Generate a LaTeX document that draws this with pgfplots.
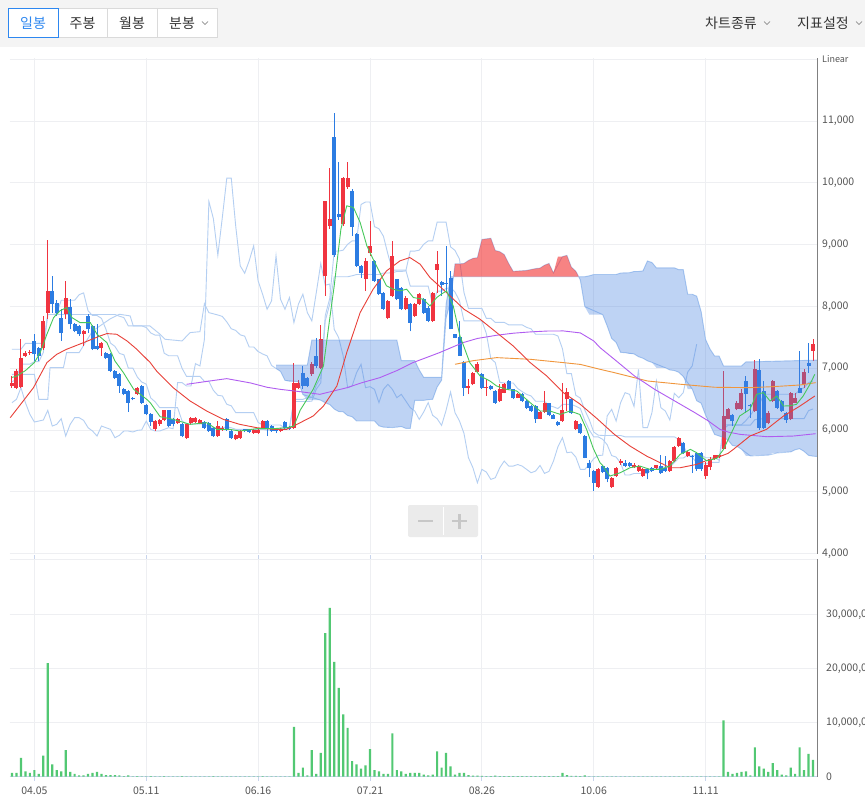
\documentclass[border=0pt]{standalone}
\usepackage{fontspec}
\setmainfont{Noto Sans CJK KR}
\usepackage{pgfplots}
\usepackage{pgfplotstable}
\pgfplotsset{compat=1.18}
\definecolor{upc}{RGB}{240,52,64}
\definecolor{dnc}{RGB}{44,124,226}
\definecolor{ma5}{RGB}{70,200,90}
\definecolor{ma20}{RGB}{232,64,56}
\definecolor{ma60}{RGB}{176,92,240}
\definecolor{ma120}{RGB}{240,150,60}
\definecolor{ichi}{RGB}{180,207,242}
\definecolor{cloudb}{RGB}{69,129,224}
\definecolor{cloudr}{RGB}{242,30,30}
\definecolor{gridc}{RGB}{238,239,242}
\definecolor{volg}{RGB}{82,200,115}
\definecolor{txt}{RGB}{85,85,85}
\definecolor{topbg}{RGB}{244,244,244}
\definecolor{btnb}{RGB}{218,218,218}
\definecolor{selb}{RGB}{45,135,240}
\definecolor{axb}{RGB}{200,212,236}

\pgfplotstableread{
i O H L C
0 6711 6873 6684 6765
1 6684 6980 6660 6954
2 6700 7467 6684 7170
3 7197 7280 7180 7251
4 7250 7300 7220 7265
7 7332 7845 7300 7764
8 7899 9076 7790 8250
12 7872 8412 7790 8142
16 7548 7620 7360 7600
20 7321 7420 7197 7402
28 6576 6700 6560 6684
32 6009 6160 5990 6144
33 6090 6180 6070 6160
34 6160 6330 6140 6317
37 6117 6200 6100 6182
39 5874 6100 5860 6090
40 6117 6210 6100 6198
41 6128 6210 6110 6198
42 6101 6170 6090 6155
46 5901 6140 5890 6063
47 6009 6060 5990 6036
50 5847 5930 5830 5912
51 5874 6000 5860 5982
54 5955 6010 5940 5993
55 5955 6010 5940 6000
56 6036 6160 6020 6144
60 5982 6030 5960 6009
63 6036 7089 6020 6765
64 6684 6800 6660 6765
67 6900 7100 6880 7073
69 7008 7694 6990 7467
70 8493 9700 8169 9697
71 9300 10237 9249 9420
74 9330 10100 9300 10075
75 9924 10329 9900 10075
79 8439 8790 8250 8736
80 8860 9384 8817 8979
84 7818 8100 7790 8088
85 8169 9060 8150 8817
88 7953 8160 7940 8142
90 7845 8050 7830 8034
91 8034 8210 8020 8196
94 7764 8240 7748 8223
95 8590 8898 8223 8693
102 6680 6819 6576 6711
103 6738 6940 6720 6927
104 6938 7100 6920 7062
106 6680 6819 6549 6700
109 6468 6738 6450 6657
110 6603 6760 6590 6738
113 6522 6590 6510 6576
118 6182 6300 6170 6290
119 6290 6630 6280 6441
123 6144 6765 6130 6317
124 6495 6684 6306 6614
126 6020 6160 6000 6144
131 5080 5380 5060 5361
134 5080 5240 5060 5226
135 5253 5400 5240 5388
136 5469 5530 5440 5496
139 5400 5460 5380 5440
140 5334 5430 5320 5415
141 5253 5380 5240 5361
144 5388 5440 5370 5425
147 5334 5510 5320 5496
148 5496 5740 5480 5728
149 5739 5890 5720 5874
151 5577 5660 5560 5642
155 5250 5480 5210 5440
156 5400 5560 5350 5534
157 5534 5600 5520 5588
158 5560 5600 5550 5590
159 5685 6954 5674 6225
160 6171 6350 6171 6333
162 6333 6460 6320 6441
163 6333 6657 6320 6603
166 6306 7132 6290 6981
169 6106 6300 6090 6279
170 6468 6810 6450 6792
174 6171 6610 6160 6592
175 6441 6603 6430 6522
177 6738 6981 6684 6938
179 7278 7467 7116 7386
}\upT

\pgfplotstableread{
i O H L C
5 7440 7550 7120 7224
6 7332 7350 7120 7197
9 8250 8493 7899 8034
10 8061 8100 7845 7899
11 7818 7953 7440 7575
13 7996 8115 7629 7710
14 7710 7730 7580 7600
15 7683 7700 7520 7548
17 7845 7872 7575 7629
18 7683 7700 7290 7305
19 7360 7710 7290 7305
21 7240 7260 7140 7159
22 7224 7240 6940 6954
23 6954 6970 6830 6846
24 6900 6920 6603 6711
25 6657 6680 6560 6576
26 6630 6650 6290 6441
27 6522 6540 6480 6495
29 6711 6730 6420 6441
30 6398 6414 6240 6252
31 6252 6270 6063 6128
35 6317 6330 6040 6063
36 6171 6190 6070 6090
38 6101 6120 5880 5901
43 6128 6140 6020 6036
44 6117 6130 5970 5982
45 6036 6050 5890 5901
48 6171 6190 5990 6009
49 5982 5995 5860 5874
52 6009 6020 5960 5982
53 6009 6020 5950 5966
57 6144 6160 5901 6009
58 6063 6080 5970 5982
59 6009 6020 5950 5982
61 6128 6144 6020 6036
62 6047 6060 6000 6020
65 6927 7035 6660 6711
66 6846 6860 6690 6711
68 7197 7490 7000 7035
72 10734 11128 8800 8828
73 9492 10329 9400 9438
76 9859 9900 9141 9292
77 9168 9190 8640 8655
78 8655 8670 8466 8536
81 8736 8750 8390 8412
82 8439 8450 8180 8196
83 8223 8240 7940 7953
86 8439 8450 8100 8115
87 8304 8320 7940 7953
89 8034 8050 7596 7737
92 8115 8130 7880 7899
93 7980 8000 7740 7764
96 8396 8410 8169 8342
97 8380 8979 8223 8360
98 8466 8570 7629 7629
99 7548 7560 7480 7494
100 7510 7760 7197 7197
101 7105 7120 6549 6684
105 6900 6920 6670 6684
107 6711 6730 6640 6657
108 6630 6650 6420 6441
111 6792 6810 6640 6657
112 6657 6670 6500 6522
114 6576 6590 6450 6468
115 6468 6480 6340 6360
116 6387 6400 6290 6306
117 6387 6400 6117 6171
120 6430 6440 6220 6236
121 6236 6250 6170 6182
122 6128 6140 6060 6074
125 6495 6510 6260 6279
127 6090 6110 5930 5944
128 5901 5920 5540 5550
129 5469 5520 5230 5388
130 5334 5350 5010 5145
132 5415 5430 5300 5318
133 5388 5400 5150 5199
137 5469 5520 5400 5415
138 5469 5480 5400 5415
142 5361 5370 5200 5307
143 5388 5400 5320 5334
145 5415 5600 5290 5296
146 5380 5580 5320 5330
150 5793 5810 5610 5631
152 5580 5600 5300 5560
153 5631 5650 5340 5361
154 5620 5640 5340 5361
161 6236 6250 6063 6144
164 6792 6873 6280 6576
165 6400 6420 6200 6380
167 6970 7154 6000 6036
168 6630 6792 6009 6036
171 6630 6650 6340 6360
172 6468 6480 6290 6306
173 6279 6290 6117 6160
176 6684 7278 6590 6603
178 7089 7413 6927 7035
}\dnT

\pgfplotsset{
  base/.style={
    scale only axis, xmin=-0.5, xmax=180,
    scaled x ticks=false, scaled y ticks=false,
    axis line style={draw=none},
    tick label style={font=\fontsize{10.5}{12.5}\selectfont, text=txt},
    grid style={gridc, line width=0.8pt},
    xtick={5,30,55,80,105,130,155},
    xmajorgrids, ymajorgrids,
    yticklabel pos=right,
    yticklabel style={anchor=west, inner sep=0pt, xshift=4.5pt},
    ytick style={draw=none},
  },
  wick/.style={draw=none, mark=none, forget plot,
    error bars/.cd, y dir=plus, y explicit, error mark=none,
    error bar style={draw=#1, line width=1pt}},
  body/.style={draw=none, mark=none, forget plot,
    error bars/.cd, y dir=plus, y explicit, error mark=none,
    error bar style={draw=#1, line width=4pt}},
}

\begin{document}
\begin{tikzpicture}[x=1pt,y=1pt]
\useasboundingbox (0,0) rectangle (865,807);
\clip (0,0) rectangle (865,807);
\fill[white] (0,0) rectangle (865,807);
% top bar
\fill[topbg] (0,760.3) rectangle (865,807);
\draw[btnb, fill=white, line width=0.8pt] (58,769.3) rectangle (107,798.7);
\draw[btnb, fill=white, line width=0.8pt] (107,769.3) rectangle (157,798.7);
\draw[btnb, fill=white, line width=0.8pt] (157,769.3) rectangle (217,798.7);
\draw[selb, fill=white, line width=0.9pt] (8.5,769.3) rectangle (58,798.7);
\node[font=\fontsize{14}{16}\selectfont, text=selb] at (33,784) {일봉};
\node[font=\fontsize{14}{16}\selectfont, text=black!80] at (82.5,784) {주봉};
\node[font=\fontsize{14}{16}\selectfont, text=black!80] at (132,784) {월봉};
\node[font=\fontsize{14}{16}\selectfont, text=black!80] at (182,784) {분봉};
\draw[black!55, line width=0.6pt] (202,785.5) -- (205,782.5) -- (208,785.5);
\node[font=\fontsize{14}{16}\selectfont, text=black!80] at (731,784) {차트종류};
\draw[black!55, line width=0.6pt] (764,785.5) -- (767,782.5) -- (770,785.5);
\node[font=\fontsize{14}{16}\selectfont, text=black!80] at (823,784) {지표설정};
\draw[black!55, line width=0.6pt] (856,785.5) -- (859,782.5) -- (862,785.5);
\node[anchor=west, inner sep=0pt, font=\fontsize{9}{10}\selectfont, text=txt] at (822,748) {Linear};

% ================= price axis =================
\begin{axis}[base, at={(9.76pt,253.5pt)}, anchor=south west,
  width=807.74pt, height=495.5pt,
  ymin=4000, ymax=12019,
  ytick={4000,5000,6000,7000,8000,9000,10000,11000,12000},
  yticklabels={{4,000},{5,000},{6,000},{7,000},{8,000},{9,000},{10,000},{11,000},{}},
  xticklabels={}, xtick style={draw=none},
]
% lagging span
\addplot[ichi, line width=0.9pt] coordinates {(0,6441) (1,6495) (2,6684) (3,6441) (4,6252) (5,6128) (6,6144) (7,6160) (8,6317) (9,6063) (10,6090) (11,6182) (12,5901) (13,6090) (14,6198) (15,6198) (16,6155) (17,6036) (18,5982) (19,5901) (20,6063) (21,6036) (22,6009) (23,5874) (24,5912) (25,5982) (26,5982) (27,5966) (28,5993) (29,6000) (30,6144) (31,6009) (32,5982) (33,5982) (34,6009) (35,6036) (36,6020) (37,6765) (38,6765) (39,6711) (40,6711) (41,7073) (42,7035) (43,7467) (44,9697) (45,9420) (46,8828) (47,9438) (48,10075) (49,10075) (50,9292) (51,8655) (52,8536) (53,8736) (54,8979) (55,8412) (56,8196) (57,7953) (58,8088) (59,8817) (60,8115) (61,7953) (62,8142) (63,7737) (64,8034) (65,8196) (66,7899) (67,7764) (68,8223) (69,8693) (70,8342) (71,8360) (72,7629) (73,7494) (74,7197) (75,6684) (76,6711) (77,6927) (78,7062) (79,6684) (80,6700) (81,6657) (82,6441) (83,6657) (84,6738) (85,6657) (86,6522) (87,6576) (88,6468) (89,6360) (90,6306) (91,6171) (92,6290) (93,6441) (94,6236) (95,6182) (96,6074) (97,6317) (98,6614) (99,6279) (100,6144) (101,5944) (102,5550) (103,5388) (104,5145) (105,5361) (106,5318) (107,5199) (108,5226) (109,5388) (110,5496) (111,5415) (112,5415) (113,5440) (114,5415) (115,5361) (116,5307) (117,5334) (118,5425) (119,5296) (120,5330) (121,5496) (122,5728) (123,5874) (124,5631) (125,5642) (126,5560) (127,5361) (128,5361) (129,5440) (130,5534) (131,5588) (132,5590) (133,6225) (134,6333) (135,6144) (136,6441) (137,6603) (138,6576) (139,6380) (140,6981) (141,6036) (142,6036) (143,6279) (144,6792) (145,6360) (146,6306) (147,6160) (148,6592) (149,6522) (150,6603) (151,6938) (152,7035) (153,7386)};
% conversion line
\addplot[ichi, line width=0.9pt] coordinates {(0,6779) (1,6820) (2,7064) (4,7064) (5,7105) (6,7105) (7,7253) (8,7868) (9,7868) (10,7880) (11,8098) (14,8098) (15,8188) (16,8218) (17,7927) (18,7851) (19,7851) (20,7805) (21,7628) (22,7406) (23,7351) (24,7238) (25,7216) (26,7000) (27,7000) (28,6855) (29,6775) (30,6740) (31,6517) (32,6455) (33,6360) (37,6360) (38,6147) (39,6095) (43,6095) (44,6035) (47,6035) (48,6050) (49,6035) (50,6010) (56,6010) (57,5995) (58,5995) (59,6010) (60,6030) (62,6030) (63,6495) (65,6495) (66,6520) (67,6525) (68,6725) (69,6847) (70,7850) (71,8128) (72,8894) (73,8894) (74,8909) (75,9004) (76,9059) (77,9059) (78,9648) (79,9689) (80,9689) (81,9290) (82,9255) (83,9135) (84,8845) (85,8587) (88,8587) (89,8328) (93,8328) (94,8023) (95,8247) (96,8247) (97,8288) (98,8304) (99,8230) (100,8088) (101,7764) (105,7764) (106,7560) (107,7155) (108,7090) (109,6770) (110,6760) (112,6760) (113,6670) (114,6620) (115,6575) (116,6550) (117,6464) (119,6464) (120,6394) (121,6374) (122,6345) (123,6413) (125,6413) (126,6383) (127,6348) (128,6153) (129,5998) (130,5888) (131,5888) (132,5847) (133,5760) (134,5585) (135,5560) (136,5465) (137,5270) (138,5270) (139,5295) (142,5295) (143,5365) (144,5365) (145,5400) (147,5400) (148,5470) (149,5545) (150,5545) (151,5590) (153,5590) (154,5595) (155,5550) (157,5550) (158,5510) (159,6082) (163,6082) (164,6152) (165,6237) (166,6341) (167,6414) (168,6577) (175,6577) (176,6644) (177,6684) (178,6765) (179,6792)};
% base line
\addplot[ichi, line width=0.9pt] coordinates {(0,7305) (2,7305) (3,7400) (7,7400) (8,7868) (23,7868) (24,7840) (25,7818) (26,7683) (29,7683) (30,7658) (31,7570) (32,7533) (33,7533) (34,7242) (35,7201) (37,7201) (38,6998) (39,6866) (42,6866) (43,6785) (44,6785) (45,6640) (46,6560) (47,6550) (48,6415) (49,6390) (50,6280) (54,6280) (55,6122) (56,6080) (60,6080) (61,6020) (62,6020) (63,6460) (66,6460) (67,6465) (68,6660) (69,6762) (70,7765) (71,8034) (72,8479) (75,8479) (76,8494) (77,8515) (82,8515) (83,8539) (84,8539) (85,8544) (86,8564) (87,8564) (88,8574) (89,8894) (90,8894) (91,8909) (92,9004) (93,9059) (94,9059) (95,9362) (97,9362) (98,8963) (99,8905) (100,8763) (101,8225) (102,7967) (105,7967) (106,7805) (107,7805) (108,7740) (110,7740) (111,7700) (114,7700) (115,7660) (116,7635) (117,7548) (121,7548) (122,7520) (123,7315) (124,6910) (125,6910) (126,6560) (127,6515) (128,6320) (129,6165) (130,5965) (131,5915) (132,5910) (136,5910) (137,5888) (148,5888) (149,5847) (150,5760) (151,5585) (152,5560) (153,5465) (154,5450) (155,5450) (156,5475) (158,5475) (159,6007) (160,6077) (165,6077) (166,6166) (167,6177) (168,6182) (177,6182) (178,6312) (179,6339)};
% leading span A
\addplot[ichi, line width=0.9pt] coordinates {(0,6900) (5,6900) (6,6495) (8,6495) (8.5,7008) (11.5,7008) (12.2,7251) (15,7251) (18,7600) (22,7800) (24,7872) (26.4,7845) (27.1,7683) (30.8,7683) (33.1,7548) (34.2,7467) (38,7440) (39.8,7575) (42,7590) (43,8043) (44,7898) (46,7860) (47,7837) (48,7748) (49,7637) (50,7610) (51,7539) (52,7517) (53,7342) (54,7342) (55,7269) (56,7229) (57,7199) (58,7044) (59,6994) (60,6947) (61,6801) (64,6781) (65,6573) (69,6481) (70,6440) (71,6410) (72,6338) (73,6298) (74,6293) (75,6233) (76,6213) (77,6145) (81,6145) (82,6066) (83,6045) (85,6038) (86,6045) (87,6055) (88,6025) (89,6025) (90,6478) (92,6478) (93,6490) (94,6495) (95,6693) (96,6805) (97,7808) (98,8081) (99,8687) (100,8687) (101,8694) (102,8742) (103,8777) (104,8787) (105,9082) (107,9102) (108,8903) (109,8885) (110,8837) (111,8692) (112,8566) (114,8576) (115,8581) (117,8611) (118,8619) (119,8666) (120,8694) (121,8541) (123,8805) (124,8825) (125,8634) (126,8568) (127,8426) (128,7995) (132,7866) (133,7683) (134,7480) (135,7415) (136,7255) (137,7250) (139,7230) (140,7185) (141,7160) (142,7118) (143,7093) (146,7006) (147,6971) (148,6961) (149,6933) (150,6864) (152,6662) (153,6472) (154,6432) (155,6237) (156,6082) (157,5927) (158,5902) (159,5879) (160,5835) (161,5748) (162,5735) (163,5688) (165,5579) (169,5592) (171,5627) (174,5644) (175,5679) (176,5696) (177,5653) (178,5588) (179,5575) (180,5570)};
% leading span B
\addplot[ichi, line width=0.9pt] coordinates {(59,7050) (66,7050) (67,7455) (86,7455) (87,7121) (90,7121) (91,6972) (92,6851) (96,6851) (97,8034) (98,8479) (128,8479) (129,8494) (130,8515) (135,8515) (136,8539) (138,8544) (139,8564) (140,8564) (141,8574) (142,8734) (143,8709) (144,8623) (148,8623) (149,8594) (150,8594) (151,8195) (152,8195) (153,8165) (154,7915) (155,7462) (156,7307) (157,7197) (158,7197) (159,7035) (163,7035) (164,7100) (180,7130)};

% candles: down (wick, then body)
\addplot[wick=dnc] table[x=i, y=L, y error expr=\thisrow{H}-\thisrow{L}] {\dnT};
\addplot[body=dnc] table[x=i, y=C, y error expr=\thisrow{O}-\thisrow{C}] {\dnT};
% candles: up
\addplot[wick=upc] table[x=i, y=L, y error expr=\thisrow{H}-\thisrow{L}] {\upT};
\addplot[body=upc] table[x=i, y=O, y error expr=\thisrow{C}-\thisrow{O}] {\upT};

% cloud
\addplot[fill=cloudb, fill opacity=0.35, draw=none] coordinates {(59,7050) (66,7050) (67,7455) (86,7455) (87,7121) (90,7121) (91,6972) (92,6851) (96,6851) (97,8034) (98,8479) (98.66,8479) (98,8081) (97,7808) (96,6805) (95,6693) (94,6495) (93,6490) (92,6478) (90,6478) (89,6025) (88,6025) (87,6055) (86,6045) (84,6038) (83,6045) (82,6066) (81,6145) (77,6145) (76,6213) (75,6233) (74,6293) (73,6298) (72,6338) (71,6410) (70,6440) (69,6481) (66,6481) (65,6573) (64,6781) (62,6781) (61,6801) (60,6947) (59,6994)} -- cycle;
\addplot[fill=cloudr, fill opacity=0.55, draw=none] coordinates {(98.66,8479) (99,8687) (100,8687) (101,8694) (102,8742) (103,8777) (104,8787) (105,9082) (107,9102) (108,8903) (109,8885) (110,8837) (111,8692) (112,8566) (114,8576) (115,8581) (117,8611) (118,8619) (119,8666) (120,8694) (121,8541) (122,8805) (123,8805) (124,8825) (125,8634) (126,8568) (126.63,8479)} -- cycle;
\addplot[fill=cloudb, fill opacity=0.35, draw=none] coordinates {(126.63,8479) (128,8479) (129,8494) (130,8515) (135,8515) (136,8539) (138,8544) (139,8564) (140,8564) (141,8574) (142,8734) (143,8709) (144,8623) (148,8623) (149,8594) (150,8594) (151,8195) (152,8195) (153,8165) (154,7915) (155,7462) (156,7307) (157,7197) (158,7197) (159,7035) (163,7035) (164,7100) (180,7130) (180,5570) (179,5575) (178,5588) (177,5653) (176,5696) (175,5679) (174,5644) (172,5644) (171,5627) (170,5627) (169,5592) (166,5592) (165,5579) (164,5579) (163,5688) (162,5735) (161,5748) (160,5835) (159,5879) (158,5902) (157,5927) (156,6082) (155,6237) (154,6432) (153,6472) (152,6662) (151,6662) (150,6864) (149,6933) (148,6961) (147,6971) (146,7006) (144,7006) (143,7093) (142,7118) (141,7160) (140,7185) (139,7230) (138,7230) (137,7250) (136,7255) (135,7415) (134,7480) (133,7683) (132,7866) (129,7866) (128,7995) (127,8426)} -- cycle;

% moving averages
\addplot[ma120, line width=0.9pt] coordinates {(99,7062) (103,7120) (108.3,7170) (115.8,7143) (123.2,7089) (127,7060) (131.4,6981) (134.6,6927) (142,6792) (149.5,6738) (157.1,6690) (164.9,6684) (170,6700) (176.1,6727) (179.6,6765)};
\addplot[ma60, line width=0.9pt] coordinates {(39,6738) (44,6790) (48,6830) (53.3,6760) (57,6690) (59.9,6657) (64.4,6619) (68.8,6576) (74.9,6684) (78,6760) (82.2,6846) (86,6960) (89.6,7089) (95.5,7250) (100.8,7413) (104,7480) (108.3,7532) (112,7565) (115.8,7586) (119.5,7600) (123.2,7602) (127,7570) (130,7440) (131.4,7332) (134.6,7143) (139.1,6873) (143.6,6657) (148.1,6468) (152.6,6279) (155.5,6150) (158.2,6009) (160,5966) (162.7,5928) (168.7,5890) (174.6,5901) (179.6,5939)};
\addplot[ma20, line width=0.9pt] coordinates {(-0.4,6198) (2.5,6468) (4.8,6684) (7.8,7089) (10,7224) (12.2,7305) (16,7413) (19.7,7521) (21.2,7559) (23.4,7548) (25.7,7440) (27.9,7305) (30.9,7089) (32.3,6954) (36,6684) (39.8,6468) (43.5,6306) (47.2,6171) (50.9,6090) (54.7,6036) (58.4,6009) (61.4,6009) (64.4,6117) (67.3,6225) (69.6,6387) (72.6,6711) (74.8,7251) (77.8,7899) (80.7,8277) (83.7,8574) (86.7,8736) (88.9,8790) (91.2,8682) (93.4,8466) (97.1,8223) (101,7953) (104.6,7791) (108.3,7575) (112,7359) (115.8,7089) (119.5,6873) (123.2,6603) (126.9,6420) (130.7,6185) (134.6,5928) (138.1,5739) (141.8,5577) (145.6,5442) (147,5388) (149.3,5388) (153,5442) (155,5500) (157.1,5540) (160,5620) (161.2,5685) (164.9,5901) (168.6,6009) (172.4,6225) (176.1,6387) (179.4,6549)};
\addplot[ma5, line width=0.9pt] coordinates {(0,6850) (1,6870) (3,6960) (5,7090) (6.3,7251) (7.8,7548) (9.3,7818) (10.7,7926) (12.2,7980) (13.4,7818) (15.2,7737) (17.5,7737) (19,7548) (21.2,7413) (23,7116) (24.9,6927) (27.2,6657) (28.7,6576) (30.1,6495) (30.9,6441) (33.1,6214) (36,6171) (39.8,6090) (43.5,6117) (45.8,6009) (48.7,6009) (50.9,5982) (54.7,6020) (58.4,6020) (61.4,6036) (63,6063) (64.4,6319) (65.1,6400) (67.3,6657) (69.6,7035) (71,7800) (72,8331) (73.5,9249) (74.8,9627) (76.3,9600) (77.8,9357) (79.3,8979) (80.7,8763) (82.2,8547) (83.7,8331) (85.2,8277) (86.7,8250) (88.2,8277) (89.7,8142) (91.9,8115) (93.4,8007) (94.9,8142) (96,8200) (97.1,8250) (98.6,8007) (100.1,7521) (102.3,7089) (104.6,6873) (106.8,6792) (108.3,6711) (110.5,6657) (112.8,6630) (115.8,6441) (118,6306) (120.2,6306) (122.5,6252) (124.7,6306) (126.9,6250) (128.4,6009) (129.9,5700) (131.4,5469) (132.1,5415) (133.6,5253) (135.9,5307) (138.1,5388) (140.3,5415) (142.6,5361) (144.8,5361) (147,5415) (149.3,5604) (151.6,5685) (153,5631) (155.2,5500) (157.5,5540) (159,5685) (160.4,5901) (162.6,6225) (164.9,6333) (166.4,6576) (167.9,6603) (169.4,6468) (170.9,6549) (172.4,6387) (173.8,6390) (175.3,6414) (176.8,6549) (178.3,6738) (179.4,6900)};
\end{axis}

% ================= volume axis =================
\begin{axis}[base, at={(9.76pt,30.3pt)}, anchor=south west,
  width=807.74pt, height=217.4pt,
  ymin=0, ymax=40.16,
  ytick={0,10,20,30,40.16},
  yticklabels={0,{10,000,000},{20,000,000},{30,000,000},{}},
  xticklabels={04.05,05.11,06.16,07.21,08.26,10.06,11.11},
  xtick style={draw=axb, line width=0.8pt},
  tick align=outside, major tick length=4pt,
  xticklabel style={anchor=north, inner sep=0pt, yshift=-6pt},
]
\draw[axb, line width=0.9pt] (rel axis cs:0,0) -- (rel axis cs:1,0);
\addplot[ybar, bar width=2.2pt, fill=volg, draw=none] coordinates {
(0,0.7) (1,0.7) (2,3.5) (3,1.0) (4,0.7) (5,1.2) (6,0.5) (7,3.9) (8,21.0) (9,2.3)
(10,1.2) (11,1.0) (12,4.9) (13,0.9) (14,0.5) (15,0.25) (16,0.25) (17,0.5) (18,0.7) (19,0.9)
(20,0.5) (21,0.3) (22,0.3) (23,0.3) (24,0.25) (25,0.1) (26,0.25) (27,0.08) (28,0.1) (29,0.08)
(30,0.08) (31,0.1) (32,0.08) (33,0.08) (34,0.1) (35,0.08) (36,0.08) (37,0.08) (38,0.1) (39,0.08)
(40,0.08) (41,0.08) (42,0.08) (43,0.08) (44,0.08) (45,0.1) (46,0.08) (47,0.08) (48,0.08) (49,0.08)
(50,0.08) (51,0.08) (52,0.08) (53,0.08) (54,0.08) (55,0.08) (56,0.1) (57,0.08) (58,0.08) (59,0.08)
(60,0.08) (61,0.08) (62,0.08) (63,9.2) (64,0.7) (65,1.7) (66,0.25) (67,4.9) (68,0.5) (69,4.4)
(70,26.5) (71,31.2) (72,21.2) (73,16.4) (74,11.5) (75,9.0) (76,2.9) (77,2.3) (78,1.5) (79,2.1)
(80,5.1) (81,1.2) (82,1.0) (83,0.5) (84,0.5) (85,8.0) (86,1.2) (87,1.0) (88,0.5) (89,0.7)
(90,0.7) (91,0.7) (92,0.4) (93,0.25) (94,0.4) (95,4.7) (96,1.7) (97,4.4) (98,1.9) (99,0.4)
(100,0.7) (101,0.7) (102,0.3) (103,0.2) (104,0.2) (105,0.15) (106,0.1) (107,0.1) (108,0.2) (109,0.1)
(110,0.1) (111,0.1) (112,0.1) (113,0.1) (114,0.1) (115,0.1) (116,0.1) (117,0.1) (118,0.1) (119,0.1)
(120,0.1) (121,0.1) (122,0.1) (123,0.7) (124,0.3) (125,0.15) (126,0.15) (127,0.1) (128,0.25) (129,0.08)
(130,0.08) (131,0.08) (132,0.08) (133,0.08) (134,0.08) (135,0.08) (136,0.08) (137,0.08) (138,0.08) (139,0.08)
(140,0.08) (141,0.08) (142,0.08) (143,0.08) (144,0.08) (145,0.08) (146,0.08) (147,0.08) (148,0.08) (149,0.08)
(150,0.08) (151,0.08) (152,0.08) (153,0.08) (154,0.08) (155,0.08) (156,0.08) (157,0.08) (158,0.08) (159,10.4)
(160,0.9) (161,0.5) (162,0.7) (163,0.9) (164,1.0) (165,0.25) (166,5.4) (167,1.9) (168,1.5) (169,0.9)
(170,2.5) (171,1.2) (172,0.4) (173,0.25) (174,1.7) (175,0.5) (176,5.4) (177,1.2) (178,4.2) (179,3.1)};
\end{axis}

% right axis line
\draw[black!50, line width=1pt] (817.6,253.5) -- (817.6,749);
\draw[black!50, line width=1pt] (817.6,30.3) -- (817.6,247.7);

% zoom control
\fill[black!8, rounded corners=2pt] (408,270) rectangle (478,302);
\draw[white, line width=1pt] (443,272) -- (443,300);
\draw[black!22, line width=2.4pt] (418,286) -- (433,286);
\draw[black!22, line width=2.4pt] (452,286) -- (467,286);
\draw[black!22, line width=2.4pt] (459.5,278.5) -- (459.5,293.5);
\end{tikzpicture}
\end{document}
